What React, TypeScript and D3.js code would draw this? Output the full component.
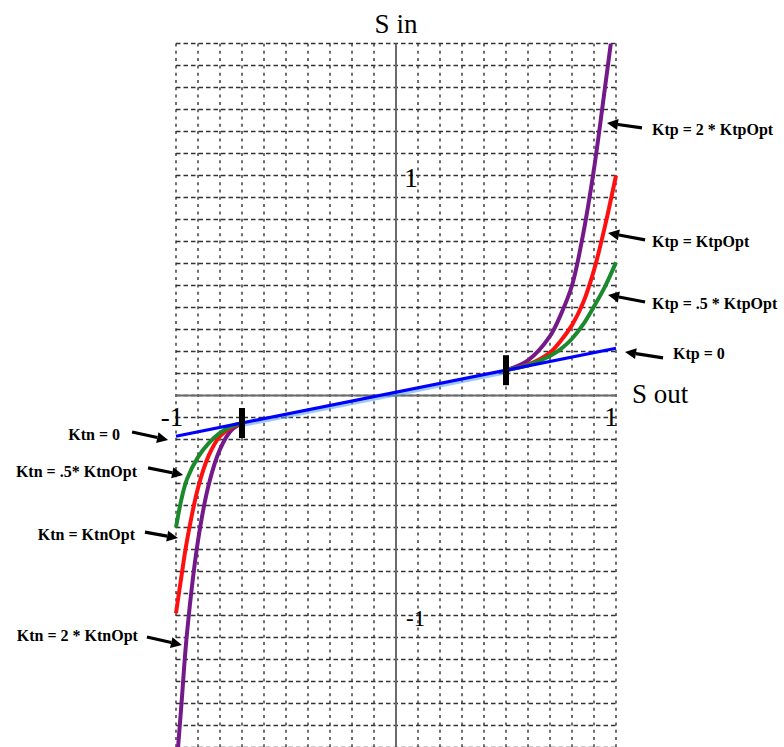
import React from "react";
import * as d3 from "d3";

// Sample positions along S out for each outer branch
const rightX = [0.5, 0.6, 0.7, 0.75, 0.8, 0.85, 0.9, 0.95, 1.0];
const leftX = [-0.7, -0.75, -0.8, -0.85, -0.9, -0.95, -0.975, -1.0];

// S in values on the positive branch (x >= 0.5)
const ktpHalf = [0.115, 0.138, 0.18, 0.212, 0.258, 0.322, 0.405, 0.495, 0.605];
const ktpOpt = [0.115, 0.14, 0.195, 0.25, 0.32, 0.42, 0.57, 0.77, 1.0];
const ktpDouble = [0.115, 0.16, 0.27, 0.37, 0.5, 0.73, 1.03, 1.4, 1.78];

// S in values on the negative branch (x <= -0.7)
const ktnHalf = [-0.125, -0.14, -0.17, -0.215, -0.28, -0.38, -0.47, -0.6];
const ktnOpt = [-0.125, -0.145, -0.185, -0.27, -0.42, -0.66, -0.82, -0.99];
const ktnDouble = [-0.125, -0.16, -0.245, -0.4, -0.66, -1.08, -1.4, -1.72];

// Linear (Kt = 0) characteristic
const linearX = [-1, 1];
const linearY = [-0.185, 0.215];

// Switching thresholds
const thresholdX = [-0.7, 0.5];
const thresholdY = [-0.125, 0.115];

const tickValues = [-1, 1];

const rightLabels = ["Ktp = 2 * KtpOpt", "Ktp = KtpOpt", "Ktp = .5 * KtpOpt", "Ktp = 0"];
const leftLabels = ["Ktn = 0", "Ktn = .5* KtnOpt", "Ktn = KtnOpt", "Ktn = 2 * KtnOpt"];

const W = 784;
const H = 747;

const FONT = "'Liberation Serif', 'Times New Roman', Times, 'DejaVu Serif', serif";

export default function App() {
  const x = d3.scaleLinear().domain([-1, 1]).range([176, 616]);
  const y = d3.scaleLinear().domain([-1.6, 1.6]).range([747.5, 43.5]);

  const line = d3
    .line<[number, number]>()
    .x((d) => x(d[0]))
    .y((d) => y(d[1]))
    .curve(d3.curveCatmullRom.alpha(0.5));

  const pts = (xs: number[], ys: number[]) => xs.map((v, i) => [v, ys[i]] as [number, number]);

  const xGrid = d3.range(-10, 11).map((i) => i / 10);
  const yGrid = d3.range(-16, 17).map((i) => i / 10);

  const curves = [
    { xs: rightX, ys: ktpDouble, color: "#74198a" },
    { xs: rightX, ys: ktpOpt, color: "#ff1010" },
    { xs: rightX, ys: ktpHalf, color: "#1b8a2c" },
    { xs: leftX, ys: ktnDouble, color: "#74198a" },
    { xs: leftX, ys: ktnOpt, color: "#ff1010" },
    { xs: leftX, ys: ktnHalf, color: "#1b8a2c" },
  ];

  const linAt = (v: number) =>
    linearY[0] + ((v - linearX[0]) / (linearX[1] - linearX[0])) * (linearY[1] - linearY[0]);

  // Callout arrows: tip in data units, tail/text offset in pixels
  const rightCallouts = [
    { tip: [0.959, 1.239], tail: [35, 5], text: rightLabels[0], t: [45, 12] },
    { tip: [0.964, 0.739], tail: [37, 7], text: rightLabels[1], t: [44, 14] },
    { tip: [0.964, 0.457], tail: [37, 7], text: rightLabels[2], t: [44, 14] },
    { tip: [1.041, 0.198], tail: [38, 6], text: rightLabels[3], t: [48, 7] },
  ];
  const leftCallouts = [
    { tip: [-1.036, -0.202], tail: [-36, -8], text: leftLabels[0], t: [-48, 0] },
    { tip: [-0.968, -0.361], tail: [-35, -7], text: leftLabels[1], t: [-46, 2] },
    { tip: [-0.991, -0.648], tail: [-33, -6], text: leftLabels[2], t: [-43, 2] },
    { tip: [-0.973, -1.134], tail: [-35, -8], text: leftLabels[3], t: [-44, -4] },
  ];

  const arrow = (tx: number, ty: number, sx: number, sy: number, key: string) => {
    const ang = Math.atan2(ty - sy, tx - sx);
    const len = 11;
    const hw = 5.5;
    const bx = tx - len * Math.cos(ang);
    const by = ty - len * Math.sin(ang);
    const px = -Math.sin(ang) * hw;
    const py = Math.cos(ang) * hw;
    return (
      <g key={key}>
        <line x1={sx} y1={sy} x2={bx} y2={by} stroke="#000" strokeWidth={3.2} />
        <polygon points={`${tx},${ty} ${bx + px},${by + py} ${bx - px},${by - py}`} fill="#000" />
      </g>
    );
  };

  const txt = (size: number, bold = false) => ({
    fontFamily: FONT,
    fontSize: `${size}px`,
    fontWeight: bold ? 700 : 400,
  });

  return (
    <svg width={W} height={H} style={{ position: "absolute", left: 0, top: 0, background: "#fff" }}>
      <defs>
        <clipPath id="plot">
          <rect x={x(-1) - 2} y={y(1.6)} width={x(1) - x(-1) + 4} height={y(-1.6) - y(1.6) + 2} />
        </clipPath>
      </defs>

      {/* grid */}
      <g>
        {yGrid.map((v) => (
          <line
            key={"h" + v}
            x1={x(-1)}
            x2={x(1)}
            y1={y(v)}
            y2={y(v)}
            stroke="#333"
            strokeWidth={1.4}
            strokeDasharray="4.5 3"
          />
        ))}
        {xGrid.map((v) => (
          <line
            key={"v" + v}
            x1={x(v)}
            x2={x(v)}
            y1={y(1.6)}
            y2={y(-1.6)}
            stroke="#333"
            strokeWidth={1.4}
            strokeDasharray="3 4.3"
          />
        ))}
      </g>

      {/* axes */}
      <line x1={x(0)} x2={x(0)} y1={y(1.6)} y2={H} stroke="#6b6b6b" strokeWidth={2} />
      <line x1={x(-1)} x2={x(1)} y1={y(0)} y2={y(0)} stroke="#6b6b6b" strokeWidth={2} />

      {/* characteristic curves */}
      <g clipPath="url(#plot)">
        {curves.map((c, i) => (
          <path key={i} d={line(pts(c.xs, c.ys)) || ""} fill="none" stroke={c.color} strokeWidth={4} />
        ))}
        <path
          d={line(pts(thresholdX, thresholdX.map(linAt))) || ""}
          fill="none"
          stroke="#4a9ff0"
          strokeWidth={5}
          opacity={0.55}
          transform="translate(0,1.5)"
        />
        <path d={line(pts(linearX, linearY)) || ""} fill="none" stroke="#0000ff" strokeWidth={3.2} />
      </g>

      {/* threshold markers */}
      {thresholdX.map((v, i) => (
        <rect key={"m" + i} x={x(v) - 3} y={y(thresholdY[i]) - 15} width={6} height={30} fill="#000" />
      ))}

      {/* tick labels */}
      {tickValues.map((v) => (
        <text key={"xt" + v} x={x(v) + (v < 0 ? -4 : -5)} y={426} style={txt(27)} textAnchor="middle">
          {v < 0 ? "-1" : "1"}
        </text>
      ))}
      {tickValues.map((v) => (
        <text
          key={"yt" + v}
          x={v < 0 ? 406 : 404}
          y={y(v) + (v < 0 ? 10 : 11)}
          style={txt(v < 0 ? 23 : 28)}
        >
          {v < 0 ? "-1" : "1"}
        </text>
      ))}

      {/* axis titles */}
      <text x={x(0)} y={33} style={txt(27)} textAnchor="middle">
        S in
      </text>
      <text x={632} y={403} style={txt(27)}>
        S out
      </text>

      {/* callouts */}
      {rightCallouts.map((c, i) => {
        const tx = x(c.tip[0]);
        const ty = y(c.tip[1]);
        return (
          <g key={"rc" + i}>
            {arrow(tx, ty, tx + c.tail[0], ty + c.tail[1], "ra" + i)}
            <text x={tx + c.t[0]} y={ty + c.t[1]} style={txt(16, true)}>
              {c.text}
            </text>
          </g>
        );
      })}
      {leftCallouts.map((c, i) => {
        const tx = x(c.tip[0]);
        const ty = y(c.tip[1]);
        return (
          <g key={"lc" + i}>
            {arrow(tx, ty, tx + c.tail[0], ty + c.tail[1], "la" + i)}
            <text x={tx + c.t[0]} y={ty + c.t[1]} style={txt(16, true)} textAnchor="end">
              {c.text}
            </text>
          </g>
        );
      })}
    </svg>
  );
}
